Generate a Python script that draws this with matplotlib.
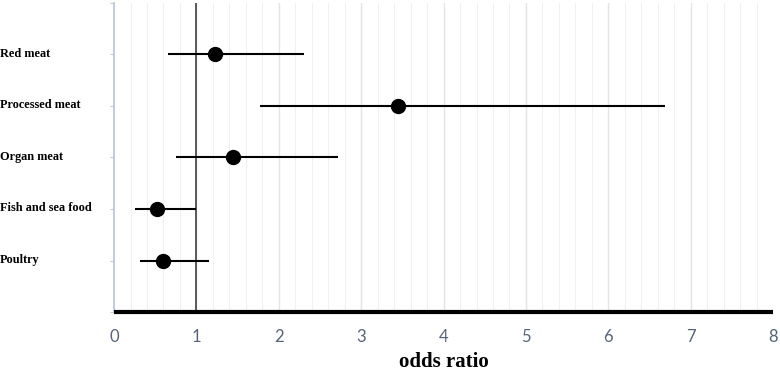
import matplotlib
matplotlib.use("Agg")
import matplotlib.pyplot as plt
import matplotlib.transforms as mtransforms
import numpy as np

categories = ["Red meat", "Processed meat", "Organ meat", "Fish and sea food", "Poultry"]
odds_ratio = [1.22, 3.45, 1.44, 0.52, 0.60]
ci_low = [0.65, 1.77, 0.75, 0.26, 0.32]
ci_high = [2.30, 6.69, 2.72, 0.99, 1.15]
x_ticks = [0, 1, 2, 3, 4, 5, 6, 7, 8]

fig = plt.figure(figsize=(7.8, 3.73), dpi=100)
ax = fig.add_axes([0.1462, 0.1635, 0.845, 0.8285])

ypos = np.arange(len(categories), 0, -1)

# gridlines
for v in np.arange(0.2, 8.0, 0.2):
    if abs(v - round(v)) < 1e-6:
        ax.axvline(v, color="#e3e3e3", lw=1.0, zorder=0)
    else:
        ax.axvline(v, color="#f0f0f0", lw=0.8, zorder=0)

ax.axvline(1, color="#404040", lw=1.2, zorder=1)

or_arr = np.array(odds_ratio)
ax.errorbar(or_arr, ypos,
            xerr=[or_arr - np.array(ci_low), np.array(ci_high) - or_arr],
            fmt="o", color="black", ecolor="black", elinewidth=1.5,
            markersize=10, capsize=0, zorder=3)

ax.set_xlim(0, 8)
ax.set_ylim(0, 6)
ax.set_xticks(x_ticks)
ax.set_xticklabels([str(t) for t in x_ticks], fontfamily="Lato", fontsize=12, color="#56657a")
ax.set_yticks(range(0, 7))
ax.set_yticklabels([])
ax.tick_params(axis="y", length=3, color="#c8c8c8", width=0.8)
ax.tick_params(axis="x", length=0, pad=12)

for s in ["top", "right"]:
    ax.spines[s].set_visible(False)
ax.spines["left"].set_color("#b4c4dc")
ax.spines["left"].set_linewidth(1.2)
ax.spines["bottom"].set_color("black")
ax.spines["bottom"].set_linewidth(3)
ax.spines["bottom"].set_capstyle("butt")
ax.spines["bottom"].set_zorder(4)

trans = mtransforms.blended_transform_factory(fig.transFigure, ax.transData)
for name, y in zip(categories, ypos):
    ax.text(0.0, y + 0.01, name, transform=trans, ha="left", va="center",
            fontfamily="Liberation Serif", fontweight="bold", fontsize=8.8)

ax.set_xlabel("odds ratio", fontfamily="Liberation Serif", fontweight="bold",
              fontsize=15, labelpad=5)

fig.savefig("out.png", dpi=100)
